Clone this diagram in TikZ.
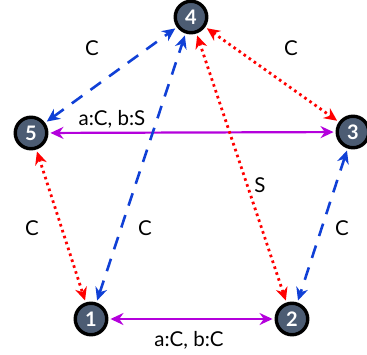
\documentclass[tikz,border=0pt]{standalone}
\usepackage{fontspec}
\setmainfont{Lato}
\definecolor{linkblue}{RGB}{16,64,214}
\definecolor{linkred}{RGB}{255,0,0}
\definecolor{linkpurple}{RGB}{180,0,220}
\definecolor{peerfill}{RGB}{76,92,115}
\usetikzlibrary{arrows.meta,positioning}

\begin{document}
\begin{tikzpicture}[x=1pt,y=-1pt,
  peer/.style={circle,draw=black,line width=3.4pt,fill=peerfill,text=white,
    minimum size=31.5pt,inner sep=0pt,font=\bfseries\fontsize{20}{20}\selectfont},
  lbl/.style={font=\fontsize{20.5}{20.5}\selectfont},
  arr/.style={{Stealth[length=13pt,width=12pt]}-{Stealth[length=13pt,width=12pt]},
    line width=2.6pt,shorten >=2pt,shorten <=2pt},
  clink/.style={arr,linkblue,dash pattern=on 13pt off 10pt},
  slink/.style={arr,linkred,line width=2.8pt,dash pattern=on 2.6pt off 3.6pt},
  both/.style={arr,linkpurple,line width=2.2pt}
]
  \useasboundingbox (0,0) rectangle (367,354);
  % peers
  \node[peer] (p4) at (191,17) {4};
  \node[peer] (p5) at (31,133) {5};
  \node[peer] (p3) at (353,132) {3};
  \node[peer] (p1) at (91,319) {1};
  \node[peer] (p2) at (292,319) {2};

  % links
  \draw[clink] (p5) -- (p4);
  \draw[slink] (p4) -- (p3);
  \draw[both] (p5) -- (p3);
  \draw[slink] (p5) -- (p1);
  \draw[clink] (p1) -- (p4);
  \draw[slink] (p4) -- (p2);
  \draw[clink] (p3) -- (p2);
  \draw[both] (p1) -- (p2);

  % labels
  \node[lbl] (l54) at (92,48) {C};
  \node[lbl] (l43) at (291,48) {C};
  \node[lbl] (l53) at (112,119) {a:C, b:S};
  \node[lbl] (l51) at (32,228) {C};
  \node[lbl] (l14) at (145,228) {C};
  \node[lbl] (l42) at (260,185) {S};
  \node[lbl] (l32) at (342,228) {C};
  \node[lbl] (l12) at (189,340) {a:C, b:C};
\end{tikzpicture}
\end{document}
